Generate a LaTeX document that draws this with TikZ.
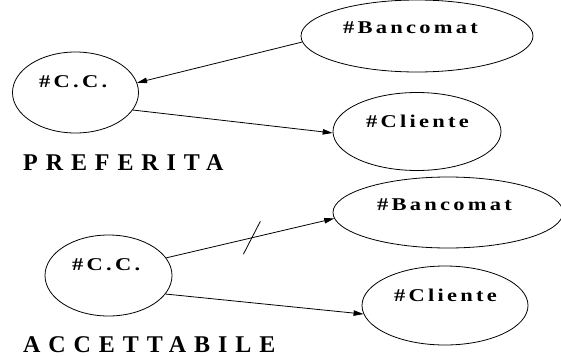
\documentclass[tikz,border=0pt]{standalone}
\usepackage{fontspec}
\setmainfont{Liberation Serif}
\newfontfamily\spaced[LetterSpace=33]{Liberation Serif}
\newfontfamily\wide[FakeStretch=1.25,LetterSpace=18]{Liberation Serif}
\usetikzlibrary{shapes.geometric,arrows.meta}
\tikzset{
  ent/.style={draw=black,ellipse,inner sep=0pt,line width=0.8pt},
  nm/.style={anchor=base west,inner sep=0pt,font=\wide\bfseries\fontsize{18}{18}\selectfont},
  ttl/.style={anchor=base west,inner sep=0pt,font=\spaced\bfseries\fontsize{24}{24}\selectfont},
  ln/.style={line width=0.8pt,-{Triangle[length=10pt,width=5.5pt]}}
}
\begin{document}
\begin{tikzpicture}[x=1pt,y=-1pt]
\useasboundingbox (0,0) rectangle (561,356);
% preferita
\node[ent,minimum width=126pt,minimum height=81pt] (cc1) at (75.5,92.5) {};
\node[ent,minimum width=232pt,minimum height=72pt] (ban1) at (417,36) {};
\node[ent,minimum width=168pt,minimum height=78pt] (cli1) at (417,131.5) {};
\node[nm] (cc1t) at (39,87) {\#C.C.};
\node[nm] (ban1t) at (343,33) {\#Bancomat};
\node[nm] (cli1t) at (366,127) {\#Cliente};
\draw[ln] (ban1.183) -- (cc1.9);
\draw[ln] (cc1.343) -- (cli1.181);
\node[ttl] (pref) at (23,170) {PREFERITA};

% accettabile
\node[ent,minimum width=127pt,minimum height=81pt] (cc2) at (108.5,275.5) {};
\node[ent,minimum width=230pt,minimum height=71pt] (ban2) at (448,212.5) {};
\node[ent,minimum width=166pt,minimum height=79pt] (cli2) at (445,305.5) {};
\node[nm] (cc2t) at (72,270) {\#C.C.};
\node[nm] (ban2t) at (377,210) {\#Bancomat};
\node[nm] (cli2t) at (394,301) {\#Cliente};
\draw[ln] (cc2.17) -- coordinate[pos=.51] (tg) (ban2.183);
\draw[line width=0.8pt] ([shift={(8.5,-16.5)}]tg) -- ([shift={(-8.5,16.5)}]tg);
\draw[ln] (cc2.342) -- (cli2.186);
\node[ttl] (acc) at (23,352) {ACCETTABILE};
\end{tikzpicture}
\end{document}
